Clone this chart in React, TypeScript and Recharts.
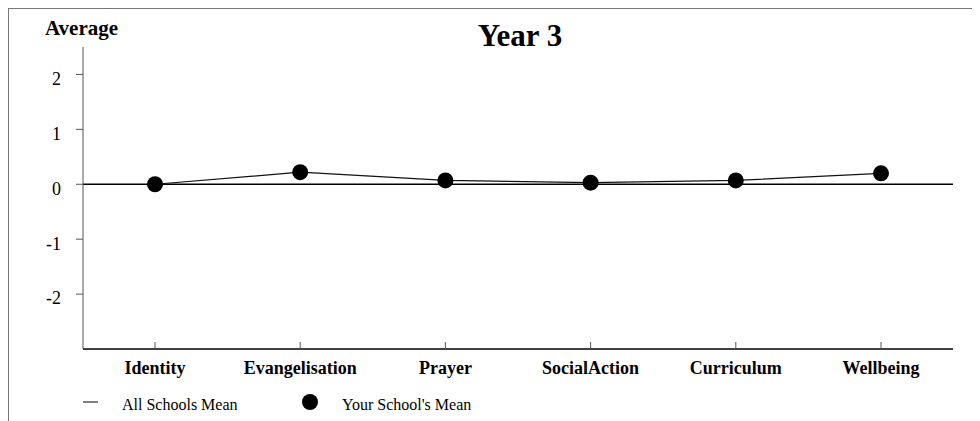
import React from "react";
import {
  LineChart,
  Line,
  XAxis,
  YAxis,
  ReferenceLine,
  Legend,
} from "recharts";

const categories = [
  "Identity",
  "Evangelisation",
  "Prayer",
  "SocialAction",
  "Curriculum",
  "Wellbeing",
];
const schoolMean = [0, 0.22, 0.07, 0.03, 0.07, 0.2];
const allSchoolsMean = 0;
const yTicks = [-2, -1, 0, 1, 2];
const legendLabels = ["All Schools Mean", "Your School's Mean"];

const FONT = '"Liberation Serif", "Times New Roman", serif';

const data = categories.map((name, i) => ({ name, school: schoolMean[i] }));

const LegendBox = () => (
  <svg width={520} height={24} style={{ display: "block" }}>
    <line x1={74} x2={89} y1={12} y2={12} stroke="#000" strokeWidth={1} />
    <text x={113} y={20} fontFamily={FONT} fontSize={16} fill="#000">
      {legendLabels[0]}
    </text>
    <circle cx={301} cy={12} r={8} fill="#000" />
    <text x={333} y={20} fontFamily={FONT} fontSize={16} fill="#000">
      {legendLabels[1]}
    </text>
  </svg>
);

const App: React.FC = () => {
  return (
    <div
      style={{
        width: 971,
        height: 412,
        borderTop: "1px solid #777",
        borderLeft: "1px solid #777",
        background: "#fff",
      }}
    >
      <LineChart
        width={971}
        height={412}
        data={data}
        margin={{ top: 38, right: 27, bottom: 0, left: 0 }}
        style={{ fontFamily: FONT }}
      >
        <text
          x={511}
          y={37}
          textAnchor="middle"
          fontFamily={FONT}
          fontSize={31}
          fontWeight="bold"
          fill="#000"
        >
          Year 3
        </text>
        <text
          x={36}
          y={26}
          fontFamily={FONT}
          fontSize={21}
          fontWeight="bold"
          fill="#000"
        >
          Average
        </text>
        <XAxis
          dataKey="name"
          height={72}
          padding={{ left: 72, right: 72 }}
          axisLine={{ stroke: "#000", strokeWidth: 1.3 }}
          tickLine={{ stroke: "#555" }}
          tickSize={-7}
          tickMargin={19}
          interval={0}
          tick={{ fill: "#000", fontSize: 18, fontWeight: "bold", fontFamily: FONT }}
        />
        <YAxis
          type="number"
          domain={[-3, 2.5]}
          ticks={yTicks}
          width={74}
          axisLine={{ stroke: "#555" }}
          tickLine={{ stroke: "#555" }}
          tickSize={7}
          tickMargin={15}
          tick={{ fill: "#000", fontSize: 18, fontFamily: FONT, dy: 4 }}
        />
        <ReferenceLine y={allSchoolsMean} stroke="#000" strokeWidth={1.3} />
        <Line
          dataKey="school"
          name={legendLabels[1]}
          stroke="#111"
          strokeWidth={1.2}
          dot={{ r: 8, fill: "#000", stroke: "#000", strokeWidth: 0 }}
          activeDot={false}
          isAnimationActive={false}
        />
        <Legend
          layout="horizontal"
          verticalAlign="middle"
          align="center"
          wrapperStyle={{ top: 381, left: 0, width: 520, height: 24 }}
          content={() => <LegendBox />}
        />
      </LineChart>
    </div>
  );
};

export default App;
